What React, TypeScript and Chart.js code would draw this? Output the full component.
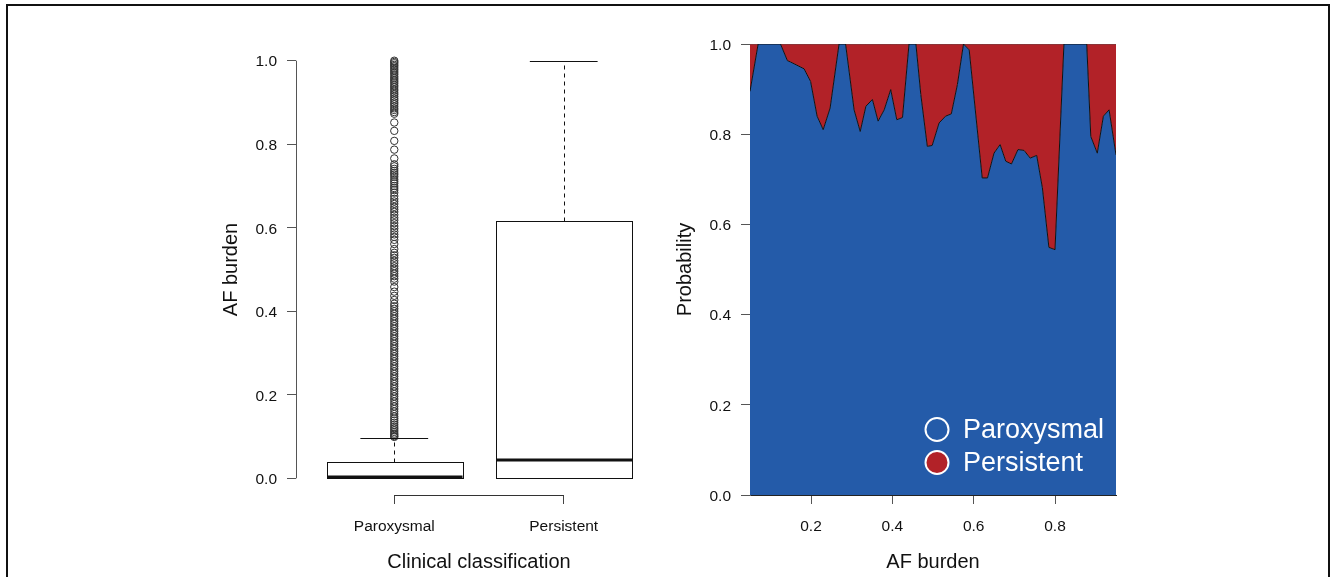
import React, { useEffect, useRef } from "react";
import { Chart, registerables } from "chart.js";

Chart.register(...registerables);

// ---------- Left panel: box plot ----------
const categories = ["Paroxysmal", "Persistent"];
const whiskerLow = [0, 0];
const quartile1 = [0, 0];
const medians = [0.002, 0.043];
const quartile3 = [0.038, 0.615];
const whiskerHigh = [0.097, 1.0];
const burdenTicks = [0, 0.2, 0.4, 0.6, 0.8, 1.0];
const paroxysmalOutliers = [
  1.0, 0.997, 0.994, 0.99, 0.987, 0.983, 0.979, 0.975, 0.971, 0.967, 0.962, 0.958,
  0.954, 0.95, 0.946, 0.941, 0.937, 0.932, 0.928, 0.923, 0.919, 0.914, 0.909, 0.905,
  0.9, 0.896, 0.891, 0.886, 0.882, 0.877, 0.873,
  0.852, 0.832, 0.808, 0.787, 0.766,
  0.752, 0.747, 0.741, 0.736, 0.731, 0.727, 0.722, 0.716, 0.711, 0.706, 0.7, 0.695, 0.69,
  0.684, 0.676, 0.669, 0.663, 0.657, 0.65, 0.644, 0.638, 0.631, 0.624, 0.618, 0.611,
  0.604, 0.598, 0.591, 0.584, 0.578, 0.571, 0.561, 0.549,
  0.54, 0.534, 0.528, 0.521, 0.515, 0.508, 0.502, 0.496, 0.49, 0.484, 0.478, 0.471,
  0.458, 0.447, 0.437, 0.427,
  0.418, 0.412, 0.406, 0.4, 0.394, 0.388, 0.382, 0.376, 0.37, 0.364, 0.358, 0.352,
  0.346, 0.34, 0.334, 0.328, 0.322, 0.316, 0.31, 0.304, 0.298, 0.292, 0.286, 0.28,
  0.274, 0.268, 0.262, 0.256, 0.25, 0.244, 0.238, 0.232, 0.226, 0.22, 0.214, 0.208,
  0.202, 0.196, 0.19, 0.184, 0.178, 0.172, 0.166, 0.16, 0.154, 0.148, 0.143, 0.138,
  0.133, 0.128, 0.123, 0.119, 0.115, 0.111, 0.107, 0.104, 0.101, 0.099,
];

// ---------- Right panel: conditional probability ----------
const afBurden = [
  0.05, 0.07, 0.125, 0.142, 0.15, 0.183, 0.199, 0.215, 0.23, 0.247, 0.269, 0.285,
  0.306, 0.321, 0.335, 0.351, 0.365, 0.38, 0.396, 0.411, 0.425, 0.441, 0.458, 0.47,
  0.486, 0.498, 0.515, 0.531, 0.545, 0.56, 0.575, 0.589, 0.621, 0.634, 0.65, 0.665,
  0.679, 0.693, 0.709, 0.724, 0.739, 0.755, 0.769, 0.785, 0.8, 0.822, 0.878, 0.888,
  0.904, 0.919, 0.933, 0.95,
];
const probParoxysmal = [
  0.895, 1.0, 1.0, 0.963, 0.96, 0.945, 0.917, 0.84, 0.81, 0.858, 1.0, 1.0,
  0.854, 0.806, 0.862, 0.877, 0.829, 0.854, 0.899, 0.832, 0.837, 1.0, 1.0, 0.888,
  0.773, 0.775, 0.825, 0.84, 0.845, 0.91, 1.0, 0.987, 0.703, 0.703, 0.758, 0.777,
  0.74, 0.734, 0.766, 0.764, 0.747, 0.753, 0.681, 0.549, 0.544, 1.0, 1.0, 0.795,
  0.758, 0.84, 0.854, 0.754,
];
const probTicksX = [0.2, 0.4, 0.6, 0.8];
const probTicksY = [0, 0.2, 0.4, 0.6, 0.8, 1.0];
const seriesNames = ["Paroxysmal", "Persistent"];

const BLUE = "#245BA9";
const RED = "#B22228";
const FONT = "'Liberation Sans', Arial, Helvetica, sans-serif";

const tickFont = { family: FONT, size: 15.5 };
const titleFont = { family: FONT, size: 20 };

const boxPlugin = {
  id: "boxes",
  afterDatasetsDraw(chart: any) {
    const { ctx, scales, chartArea } = chart;
    const x = scales.x;
    const y = scales.y;
    const r = (v: number) => Math.round(v) + 0.5;
    ctx.save();
    ctx.strokeStyle = "#111";
    ctx.lineWidth = 1;
    categories.forEach((_c, i) => {
      const cx = x.getPixelForValue(i + 1);
      const half = x.getPixelForValue(i + 1.4) - cx;
      const cap = half / 2;
      const yLo = y.getPixelForValue(whiskerLow[i]);
      const yQ1 = y.getPixelForValue(quartile1[i]);
      const yMed = y.getPixelForValue(medians[i]);
      const yQ3 = y.getPixelForValue(quartile3[i]);
      const yHi = y.getPixelForValue(whiskerHigh[i]);
      ctx.setLineDash([4, 4]);
      ctx.beginPath();
      ctx.moveTo(r(cx), r(yQ3));
      ctx.lineTo(r(cx), r(yHi));
      if (yLo - yQ1 > 1) {
        ctx.moveTo(r(cx), r(yQ1));
        ctx.lineTo(r(cx), r(yLo));
      }
      ctx.stroke();
      ctx.setLineDash([]);
      ctx.beginPath();
      ctx.moveTo(cx - cap, r(yHi));
      ctx.lineTo(cx + cap, r(yHi));
      ctx.moveTo(cx - cap, r(yLo));
      ctx.lineTo(cx + cap, r(yLo));
      ctx.stroke();
      ctx.fillStyle = "#fff";
      ctx.fillRect(r(cx - half), r(yQ3), Math.round(2 * half), Math.round(yQ1 - yQ3));
      ctx.strokeRect(r(cx - half), r(yQ3), Math.round(2 * half), Math.round(yQ1 - yQ3));
      ctx.lineWidth = 3;
      ctx.beginPath();
      ctx.moveTo(r(cx - half), Math.round(yMed));
      ctx.lineTo(r(cx + half), Math.round(yMed));
      ctx.stroke();
      ctx.lineWidth = 1;
    });
    ctx.strokeStyle = "#555";
    ctx.beginPath();
    ctx.moveTo(r(chartArea.left), y.getPixelForValue(burdenTicks[0]));
    ctx.lineTo(r(chartArea.left), y.getPixelForValue(burdenTicks[burdenTicks.length - 1]));
    ctx.stroke();
    ctx.strokeStyle = "#333";
    ctx.beginPath();
    ctx.moveTo(x.getPixelForValue(1), r(chartArea.bottom));
    ctx.lineTo(x.getPixelForValue(categories.length), r(chartArea.bottom));
    ctx.stroke();
    ctx.restore();
  },
};

const legendPlugin = {
  id: "innerLegend",
  afterDraw(chart: any) {
    const { ctx, chartArea } = chart;
    const cx = chartArea.right - 179;
    const rows = [chartArea.bottom - 66, chartArea.bottom - 33];
    ctx.save();
    ctx.lineWidth = 2;
    ctx.strokeStyle = "#fff";
    rows.forEach((cy, i) => {
      ctx.beginPath();
      ctx.arc(cx, cy + 0.5, 11.5, 0, Math.PI * 2);
      if (i === 1) {
        ctx.fillStyle = RED;
        ctx.fill();
      }
      ctx.stroke();
      ctx.fillStyle = "#fff";
      ctx.font = `27px ${FONT}`;
      ctx.textBaseline = "middle";
      ctx.textAlign = "left";
      ctx.fillText(seriesNames[i], cx + 26, cy + 1.5);
    });
    ctx.restore();
  },
};

export default function App() {
  const leftRef = useRef<HTMLCanvasElement | null>(null);
  const rightRef = useRef<HTMLCanvasElement | null>(null);

  useEffect(() => {
    Chart.defaults.font.family = FONT;
    Chart.defaults.color = "#111";

    const left = new Chart(leftRef.current as HTMLCanvasElement, {
      type: "scatter",
      data: {
        datasets: [
          {
            label: "Paroxysmal outliers",
            data: paroxysmalOutliers.map((v) => ({ x: 1, y: v })),
            pointRadius: 3.7,
            pointBorderWidth: 1,
            pointBorderColor: "#333",
            pointBackgroundColor: "rgba(255,255,255,0)",
            showLine: false,
          },
        ],
      },
      options: {
        animation: false,
        responsive: false,
        devicePixelRatio: 1,
        layout: { padding: { left: 0, top: 44, right: 4.4, bottom: 0 } },
        plugins: { legend: { display: false }, tooltip: { enabled: false } },
        scales: {
          x: {
            type: "linear",
            min: 0.42,
            max: 2.58,
            afterBuildTicks: (s: any) => {
              s.ticks = categories.map((_c, i) => ({ value: i + 1 }));
            },
            afterFit: (s: any) => {
              s.height = 82;
            },
            border: { display: false },
            grid: { drawOnChartArea: false, drawTicks: true, tickLength: 9, color: "#444" },
            ticks: {
              padding: 13,
              font: tickFont,
              color: "#111",
              maxRotation: 0,
              callback: (v: any) => categories[Math.round(Number(v)) - 1],
            },
            title: {
              display: true,
              text: "Clinical classification",
              font: titleFont,
              color: "#111",
              padding: { top: 0, bottom: 2.5 },
            },
          },
          y: {
            min: -0.04,
            max: 1.04,
            afterBuildTicks: (s: any) => {
              s.ticks = burdenTicks.map((v) => ({ value: v }));
            },
            afterFit: (s: any) => {
              s.width = 296;
            },
            border: { display: false },
            grid: { drawOnChartArea: false, drawTicks: true, tickLength: 9, color: "#555" },
            ticks: {
              padding: 10,
              labelOffset: 1.5,
              font: tickFont,
              color: "#111",
              callback: (v: any) => Number(v).toFixed(1),
            },
            title: {
              display: true,
              text: "AF burden",
              font: titleFont,
              color: "#111",
              padding: { top: 219, bottom: 0 },
            },
          },
        },
      },
      plugins: [boxPlugin],
    } as any);

    const right = new Chart(rightRef.current as HTMLCanvasElement, {
      type: "line",
      data: {
        datasets: [
          {
            label: seriesNames[0],
            data: afBurden.map((x, i) => ({ x, y: probParoxysmal[i] })),
            fill: "origin",
            backgroundColor: BLUE,
            borderColor: "#111",
            borderWidth: 1,
            pointRadius: 0,
            tension: 0,
          },
          {
            label: seriesNames[1],
            data: afBurden.map((x, i) => ({ x, y: 1 - probParoxysmal[i] })),
            fill: "-1",
            backgroundColor: RED,
            borderColor: "rgba(80,80,80,0.8)",
            borderWidth: 1,
            pointRadius: 0,
            tension: 0,
          },
        ],
      },
      options: {
        animation: false,
        responsive: false,
        devicePixelRatio: 1,
        layout: { padding: { left: 0, top: 44, right: 218, bottom: 0 } },
        plugins: { legend: { display: false }, tooltip: { enabled: false } },
        scales: {
          x: {
            type: "linear",
            min: 0.05,
            max: 0.95,
            z: 1,
            afterBuildTicks: (s: any) => {
              s.ticks = probTicksX.map((v) => ({ value: v }));
            },
            afterFit: (s: any) => {
              s.height = 82;
            },
            border: { display: true, color: "#222", width: 1 },
            grid: { drawOnChartArea: false, drawTicks: true, tickLength: 9, color: "#555" },
            ticks: {
              padding: 13,
              font: tickFont,
              color: "#111",
              maxRotation: 0,
              callback: (v: any) => Number(v).toFixed(1),
            },
            title: {
              display: true,
              text: "AF burden",
              font: titleFont,
              color: "#111",
              padding: { top: 0, bottom: 2.5 },
            },
          },
          y: {
            stacked: true,
            min: 0,
            max: 1,
            z: 1,
            afterBuildTicks: (s: any) => {
              s.ticks = probTicksY.map((v) => ({ value: v }));
            },
            afterFit: (s: any) => {
              s.width = 83;
            },
            border: { display: true, color: "#666", width: 1 },
            grid: { drawOnChartArea: false, drawTicks: true, tickLength: 9, color: "#555" },
            ticks: {
              padding: 10,
              labelOffset: 1.5,
              font: tickFont,
              color: "#111",
              callback: (v: any) => Number(v).toFixed(1),
            },
            title: {
              display: true,
              text: "Probability",
              font: titleFont,
              color: "#111",
              padding: { top: 6, bottom: 0 },
            },
          },
        },
      },
      plugins: [legendPlugin],
    } as any);

    return () => {
      left.destroy();
      right.destroy();
    };
  }, []);

  return (
    <div
      style={{
        position: "absolute",
        left: 0,
        top: 0,
        width: 1334,
        height: 577,
        overflow: "hidden",
        background: "#fff",
      }}
    >
      <canvas
        ref={leftRef}
        width={667}
        height={577}
        style={{ position: "absolute", left: 0, top: 0, width: 667, height: 577 }}
      />
      <canvas
        ref={rightRef}
        width={667}
        height={577}
        style={{ position: "absolute", left: 667, top: 0, width: 667, height: 577 }}
      />
      <div
        style={{
          position: "absolute",
          left: 6,
          top: 4,
          width: 1320,
          height: 700,
          border: "2px solid #111",
          pointerEvents: "none",
        }}
      />
    </div>
  );
}
